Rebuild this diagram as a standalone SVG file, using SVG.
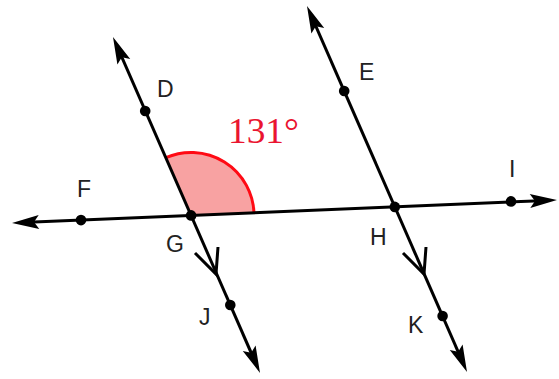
<svg xmlns="http://www.w3.org/2000/svg" width="559" height="379" viewBox="0 0 559 379">
<style>
.ln{stroke:#000;stroke-width:3;fill:none;marker-start:url(#ah);marker-end:url(#ah)}
.chev{stroke:#000;stroke-width:3;fill:none;stroke-linejoin:miter}
.dot{fill:#000}
.lbl{font-family:"Liberation Sans",Arial,sans-serif;font-size:23px;fill:#222}
.ang{font-family:"Liberation Serif","Times New Roman",serif;font-size:35px;fill:#ea1430}
</style>
<defs>
<marker id="ah" markerUnits="userSpaceOnUse" markerWidth="40" markerHeight="40" refX="0" refY="0" orient="auto-start-reverse" overflow="visible">
<path d="M10,0 L-17,-7 L-12,0 L-17,7 Z" fill="#000"/>
</marker>
</defs>
<rect width="559" height="379" fill="#fff"/>
<g id="angle">
<path d="M191.1,215.4 L165.85,157.7 A63,63 0 0 1 254,212.7 Z" fill="#f8a2a2"/>
<path d="M165.85,157.7 A63,63 0 0 1 254,212.7" fill="none" stroke="#ff0a14" stroke-width="3"/>
<text class="ang" x="228" y="143" textLength="71" lengthAdjust="spacingAndGlyphs">131°</text>
</g>
<g id="connectors">
<line class="ln" x1="117" y1="46.2" x2="256" y2="363.8"/>
<line class="ln" x1="311" y1="15.2" x2="463" y2="362.8"/>
<line class="ln" x1="22" y1="222.6" x2="547" y2="200.4"/>
<polyline class="chev" points="195,253 216,274 218,247"/>
<polyline class="chev" points="403,253 424,274 426,247"/>
</g>
<g id="D"><circle class="dot" cx="145.2" cy="111" r="5.3"/><text class="lbl" x="157" y="97">D</text></g>
<g id="E"><circle class="dot" cx="344.2" cy="91" r="5.3"/><text class="lbl" x="359" y="80">E</text></g>
<g id="F"><circle class="dot" cx="81" cy="220.1" r="5.3"/><text class="lbl" x="77" y="197">F</text></g>
<g id="G"><circle class="dot" cx="191.1" cy="215.4" r="5.3"/><text class="lbl" x="166" y="252">G</text></g>
<g id="H"><circle class="dot" cx="394.8" cy="206.9" r="5.3"/><text class="lbl" x="370" y="245">H</text></g>
<g id="I"><circle class="dot" cx="511" cy="201.4" r="5.3"/><text class="lbl" x="509" y="177">I</text></g>
<g id="J"><circle class="dot" cx="230.3" cy="305" r="5.3"/><text class="lbl" x="199" y="325">J</text></g>
<g id="K"><circle class="dot" cx="442.6" cy="316" r="5.3"/><text class="lbl" x="408" y="333">K</text></g>
</svg>
